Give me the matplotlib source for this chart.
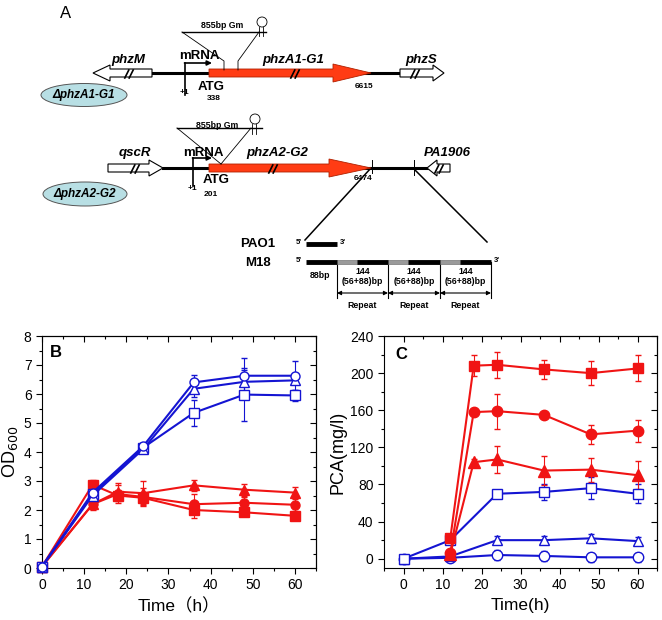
import matplotlib
matplotlib.use("Agg")
import matplotlib.pyplot as plt
from matplotlib.patches import Polygon, Ellipse, Circle
from matplotlib.ticker import MultipleLocator

plt.rcParams['font.family'] = ['Liberation Sans', 'Noto Sans CJK SC', 'DejaVu Sans']

# ---------------- data: panel B (OD600) ----------------
time_b_blue = [0, 12, 24, 36, 48, 60]
time_b_red = [0, 12, 18, 24, 36, 48, 60]
od_blue_circle = [0.05, 2.6, 4.2, 6.4, 6.63, 6.63]
od_blue_circle_err = [0.02, 0.15, 0.1, 0.27, 0.62, 0.5]
od_blue_triangle = [0.05, 2.5, 4.1, 6.18, 6.42, 6.47]
od_blue_triangle_err = [0.02, 0.1, 0.1, 0.3, 0.4, 0.1]
od_blue_square = [0.05, 2.55, 4.15, 5.35, 5.98, 5.95]
od_blue_square_err = [0.02, 0.1, 0.1, 0.45, 0.9, 0.2]
od_red_triangle = [0.05, 2.2, 2.63, 2.58, 2.85, 2.7, 2.6]
od_red_triangle_err = [0.02, 0.2, 0.3, 0.42, 0.2, 0.2, 0.2]
od_red_circle = [0.05, 2.2, 2.55, 2.45, 2.2, 2.25, 2.18]
od_red_circle_err = [0.02, 0.15, 0.3, 0.3, 0.35, 0.2, 0.2]
od_red_square = [0.05, 2.87, 2.5, 2.42, 2.0, 1.92, 1.8]
od_red_square_err = [0.02, 0.15, 0.2, 0.2, 0.28, 0.1, 0.1]

# ---------------- data: panel C (PCA) ----------------
time_c_blue = [0, 12, 24, 36, 48, 60]
time_c_red = [12, 18, 24, 36, 48, 60]
pca_red_square = [22, 208, 209, 204, 200, 205]
pca_red_square_err = [3, 11, 14, 10, 13, 14]
pca_red_circle = [6, 158, 159, 155, 134, 138]
pca_red_circle_err = [3, 3, 19, 3, 10, 12]
pca_red_triangle = [5, 104, 107, 95, 96, 90]
pca_red_triangle_err = [2, 3, 15, 16, 13, 15]
pca_blue_square = [0, 20, 70, 72, 76, 70]
pca_blue_square_err = [2, 3, 3, 9, 12, 10]
pca_blue_triangle = [0, 2.5, 20, 20, 22, 19]
pca_blue_triangle_err = [1, 1, 4, 4, 5, 4]
pca_blue_circle = [0, 1, 4, 3, 1.5, 1.5]
pca_blue_circle_err = [1, 1, 5, 5, 5, 5]

RED = '#f01414'
BLUE = '#1414d2'

W, H = 662, 620
fig = plt.figure(figsize=(W / 100, H / 100), dpi=100)

# ---------------- panel A: schematic (pixel coordinates) ----------------
a = fig.add_axes([0, 0, 1, 1])
a.set_xlim(0, W)
a.set_ylim(H, 0)
a.axis('off')


def block_arrow(tail, tip, yc, bh, hh, hl, fc, ec, lw=0.8, z=3):
    d = 1 if tip > tail else -1
    hb = tip - d * hl
    pts = [(tail, yc - bh / 2), (hb, yc - bh / 2), (hb, yc - hh / 2), (tip, yc),
           (hb, yc + hh / 2), (hb, yc + bh / 2), (tail, yc + bh / 2)]
    a.add_patch(Polygon(pts, closed=True, fc=fc, ec=ec, lw=lw, zorder=z))


def breakmark(x, y, h=8):
    for dx in (-2.2, 2.2):
        a.plot([x + dx - 2, x + dx + 2], [y + h / 2, y - h / 2], color='k', lw=1.2, zorder=5)


def txt(x, y, s, size, weight='bold', style='normal', ha='center'):
    a.text(x, y, s, fontsize=size, fontweight=weight, fontstyle=style, ha=ha, va='center',
           family=['Liberation Sans', 'DejaVu Sans'], zorder=6)


a.text(60, 13, 'A', fontsize=12, ha='left', va='center')

# row 1
a.plot([152, 400], [73, 73], color='k', lw=2.2, zorder=2)
block_arrow(152, 93, 73, 8, 16, 17, 'white', 'k')
block_arrow(400, 444, 73, 8, 16, 11, 'white', 'k')
block_arrow(209, 371, 73, 8, 18, 38, '#ff3c14', '#b02000', lw=0.6)
breakmark(129, 74)
breakmark(415, 74)
breakmark(295, 74)
a.plot([185, 185], [95, 63], color='k', lw=1.2, zorder=4)
a.annotate('', xy=(212, 63), xytext=(184.5, 63),
           arrowprops=dict(arrowstyle='-|>', lw=1.2, color='k', mutation_scale=7, shrinkA=0, shrinkB=0))
txt(128, 60, 'phzM', 9.5, style='italic')
txt(199, 56, 'mRNA', 9.5)
txt(293, 60, 'phzA1-G1', 9.5, style='italic')
txt(421, 60, 'phzS', 9.5, style='italic')
txt(211, 87, 'ATG', 9.5)
txt(184, 93, '+1', 6)
txt(214, 99, '338', 6)
txt(364, 87, '6615', 6)
a.add_patch(Ellipse((84, 95), 86, 23, fc='#b8dfe4', ec='#555555', lw=0.7, zorder=3))
txt(84, 95, '\u0394phzA1-G1', 8.5, style='italic')
# Gm insert row 1
a.plot([182, 266], [32, 32], color='k', lw=1.0, zorder=4)
a.plot([182, 224, 224], [32, 61, 70], color='k', lw=0.6, zorder=4)
a.plot([259, 238, 238], [32, 61, 70], color='k', lw=0.6, zorder=4)
a.plot([259, 259], [27, 36], color='k', lw=0.6)
a.plot([263, 263], [27, 36], color='k', lw=0.6)
a.add_patch(Circle((262, 22), 5, fc='white', ec='k', lw=0.6, zorder=4))
txt(222, 26, '855bp Gm', 6.3)

# row 2
a.plot([163, 427], [168, 168], color='k', lw=2.2, zorder=2)
block_arrow(108, 163, 168, 8, 16, 14, 'white', 'k')
block_arrow(450, 427, 168, 8, 16, 10, 'white', 'k')
block_arrow(209, 371, 168, 8, 18, 42, '#ff3c14', '#b02000', lw=0.6)
breakmark(135, 169)
breakmark(439, 169)
breakmark(273, 169)
a.plot([193, 193], [186, 158], color='k', lw=1.2, zorder=4)
a.annotate('', xy=(212, 158), xytext=(192.5, 158),
           arrowprops=dict(arrowstyle='-|>', lw=1.2, color='k', mutation_scale=7, shrinkA=0, shrinkB=0))
txt(135, 153, 'qscR', 9.5, style='italic')
txt(203, 153, 'mRNA', 9.5)
txt(277, 153, 'phzA2-G2', 9.5, style='italic')
txt(447, 153, 'PA1906', 9.5, style='italic')
txt(216, 180, 'ATG', 9.5)
txt(192, 188, '+1', 6)
txt(211, 194, '201', 6)
txt(363, 178, '6474', 6)
a.add_patch(Ellipse((85, 194), 84, 24, fc='#b8dfe4', ec='#555555', lw=0.7, zorder=3))
txt(85, 194, '\u0394phzA2-G2', 8.5, style='italic')
a.plot([177, 262], [128, 128], color='k', lw=1.0, zorder=4)
a.plot([177, 221], [128, 164], color='k', lw=0.6, zorder=4)
a.plot([251, 221], [128, 164], color='k', lw=0.6, zorder=4)
a.plot([252, 252], [124, 134], color='k', lw=0.6)
a.plot([256, 256], [124, 134], color='k', lw=0.6)
a.add_patch(Circle((255, 119), 5, fc='white', ec='k', lw=0.6, zorder=4))
txt(217, 126, '855bp Gm', 6.3)
a.plot([372, 372], [160, 173], color='k', lw=0.7)
a.plot([414, 414], [160, 175], color='k', lw=0.7)
a.plot([371, 305], [168, 240], color='k', lw=1.1)
a.plot([415, 487], [170, 242], color='k', lw=1.1)

# zoomed repeat region
txt(258, 244, 'PAO1', 9.5)
txt(258, 263, 'M18', 9.5)
txt(299, 243, "5'", 5.5)
txt(299, 261, "5'", 5.5)
txt(343, 243, "3'", 5.5)
txt(497, 261, "3'", 5.5)
a.plot([306, 337], [244, 244], color='k', lw=3.5, solid_capstyle='butt')
a.plot([306, 491], [262, 262], color='k', lw=3.5, solid_capstyle='butt', zorder=3)
for gx in (337, 388, 440):
    a.plot([gx, gx + 20], [262, 262], color='#9a9a9a', lw=3.5, solid_capstyle='butt', zorder=4)
for vx in (337, 388, 440, 491):
    a.plot([vx, vx], [262, 298], color='k', lw=0.8)
for x0, x1 in ((337, 388), (388, 440), (440, 491)):
    a.annotate('', xy=(x1, 293), xytext=(x0, 293),
               arrowprops=dict(arrowstyle='<|-|>', lw=0.8, color='k', mutation_scale=6,
                               shrinkA=0, shrinkB=0))
    xc = (x0 + x1) / 2
    txt(xc, 271, '144', 6.3)
    txt(xc, 282, '(56+88)bp', 6.3)
    txt(xc, 306, 'Repeat', 6.3)
txt(320, 276, '88bp', 6.3)

# ---------------- chart helpers ----------------
MS = 6.5


def series(ax, t, y, e, marker, color, filled, ms=MS):
    ax.errorbar(t, y, yerr=e, color=color, lw=1.5, marker=marker, ms=ms,
                mfc=color if filled else 'white', mec=color, mew=1.0,
                elinewidth=0.8, capsize=2.0, capthick=0.8, zorder=3, clip_on=False)


def style_axes(ax, xmaj, xmin, ymaj, ymin):
    ax.xaxis.set_major_locator(MultipleLocator(xmaj))
    ax.xaxis.set_minor_locator(MultipleLocator(xmin))
    ax.yaxis.set_major_locator(MultipleLocator(ymaj))
    ax.yaxis.set_minor_locator(MultipleLocator(ymin))
    ax.tick_params(which='major', direction='out', length=4, width=0.8, labelsize=10)
    ax.tick_params(which='minor', direction='out', length=2.2, width=0.8)
    for s in ax.spines.values():
        s.set_linewidth(0.8)
    top = ax.secondary_xaxis('top')
    top.xaxis.set_major_locator(MultipleLocator(xmaj))
    top.xaxis.set_minor_locator(MultipleLocator(xmin))
    top.tick_params(which='major', direction='in', length=4, width=0.8, labeltop=False)
    top.tick_params(which='minor', direction='in', length=2.2, width=0.8)
    right = ax.secondary_yaxis('right')
    right.yaxis.set_major_locator(MultipleLocator(ymaj))
    right.yaxis.set_minor_locator(MultipleLocator(ymin))
    right.tick_params(which='major', direction='in', length=4, width=0.8, labelright=False)
    right.tick_params(which='minor', direction='in', length=2.2, width=0.8)


# ---------------- panel B ----------------
axb = fig.add_axes([42 / W, 1 - 568 / H, 274 / W, 232 / H])
series(axb, time_b_red, od_red_triangle, od_red_triangle_err, '^', RED, True, MS + 1)
series(axb, time_b_red, od_red_circle, od_red_circle_err, 'o', RED, True)
series(axb, time_b_red, od_red_square, od_red_square_err, 's', RED, True)
series(axb, time_b_blue, od_blue_square, od_blue_square_err, 's', BLUE, False)
series(axb, time_b_blue, od_blue_triangle, od_blue_triangle_err, '^', BLUE, False, MS + 1)
series(axb, time_b_blue, od_blue_circle, od_blue_circle_err, 'o', BLUE, False)
axb.set_xlim(0, 65)
axb.set_ylim(0, 8)
style_axes(axb, 10, 5, 1, 0.5)
axb.set_xlabel('Time\uff08h\uff09', fontsize=12.5, labelpad=4,
               family=['Liberation Sans', 'Noto Sans CJK SC'])
axb.set_ylabel('OD$_{600}$', fontsize=13, labelpad=3)
axb.text(0.03, 0.93, 'B', transform=axb.transAxes, fontsize=12, fontweight='bold',
         ha='left', va='center')

# ---------------- panel C ----------------
axc = fig.add_axes([384 / W, 1 - 568 / H, 273 / W, 232 / H])
series(axc, time_c_blue, pca_blue_circle, pca_blue_circle_err, 'o', BLUE, False, MS + 1)
series(axc, time_c_blue, pca_blue_triangle, pca_blue_triangle_err, '^', BLUE, False, MS + 1)
series(axc, time_c_blue, pca_blue_square, pca_blue_square_err, 's', BLUE, False)
series(axc, time_c_red, pca_red_triangle, pca_red_triangle_err, '^', RED, True, MS + 1.5)
series(axc, time_c_red, pca_red_circle, pca_red_circle_err, 'o', RED, True, MS + 1)
series(axc, time_c_red, pca_red_square, pca_red_square_err, 's', RED, True, MS + 0.5)
axc.set_xlim(-5, 65)
axc.set_ylim(-10, 240)
style_axes(axc, 10, 5, 40, 20)
axc.set_xlabel('Time(h)', fontsize=12.5, labelpad=4)
axc.set_ylabel('PCA(mg/l)', fontsize=13, labelpad=3)
axc.text(0.04, 0.92, 'C', transform=axc.transAxes, fontsize=12, fontweight='bold',
         ha='left', va='center')

fig.savefig('out.png', dpi=100)
